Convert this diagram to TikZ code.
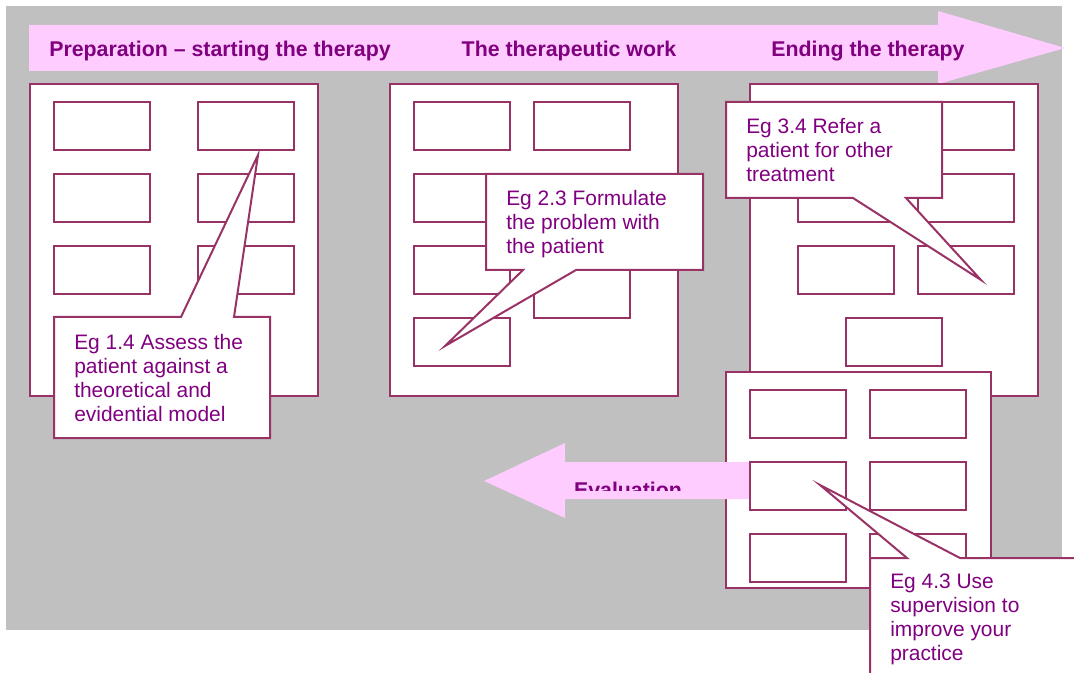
\documentclass[tikz,border=0pt]{standalone}
\usepackage{fontspec}
\setmainfont{Liberation Sans}
\definecolor{rim}{HTML}{993366}
\definecolor{plum}{HTML}{800080}
\definecolor{backgrey}{HTML}{C0C0C0}
\definecolor{band}{HTML}{FFCCFF}

\begin{document}
\begin{tikzpicture}[x=0.75pt,y=-0.75pt,
	panel/.style={draw=rim,line width=1.5pt,fill=white},
	slot/.style={draw=rim,line width=1.5pt,fill=white},
	bubble/.style={draw=rim,line width=1.5pt,fill=white},
	headtxt/.style={text=plum,font=\fontsize{16}{19}\selectfont\bfseries,anchor=base,inner sep=0pt},
	bubtxt/.style={text=plum,font=\fontsize{15.7}{18}\selectfont,align=left,anchor=north west,inner sep=0pt}]
			%%%%% START %%%%%
			\clip (0,0) rectangle (1074,673);
			\fill[backgrey] (6,6) rectangle (1062,630);
			
			% phases arrow
			\fill[band] (29,25) -- (938,25) -- (938,11) -- (1065,48) -- (938,84) -- (938,71) -- (29,71) -- cycle;
			
			% preparation
			\draw[panel] (30,84) rectangle (318,396);
			\draw[slot] (54,102) rectangle (150,150);
			\draw[slot] (198,102) rectangle (294,150);
			\draw[slot] (54,174) rectangle (150,222);
			\draw[slot] (198,174) rectangle (294,222);
			\draw[slot] (54,246) rectangle (150,294);
			\draw[slot] (198,246) rectangle (294,294);
			\draw[bubble] (54,317) -- (181,317) -- (258,155) -- (234,317) -- (270,317) -- (270,438) -- (54,438) -- cycle;
			\node[bubtxt] (eg14) at (74,334) {Eg 1.4 Assess the\\patient against a\\theoretical and\\evidential model};
			
			% therapeutic work
			\draw[panel] (390,84) rectangle (678,396);
			\draw[slot] (414,102) rectangle (510,150);
			\draw[slot] (534,102) rectangle (630,150);
			\draw[slot] (414,174) rectangle (510,222);
			\draw[slot] (414,246) rectangle (510,294);
			\draw[slot] (534,270) rectangle (630,318);
			\draw[slot] (414,318) rectangle (510,366);
			\draw[bubble] (486,174) -- (703,174) -- (703,270) -- (576,270) -- (445,346) -- (523,270) -- (486,270) -- cycle;
			\node[bubtxt] (eg23) at (506,190) {Eg 2.3 Formulate\\the problem with\\the patient};
			
			% ending
			\draw[panel] (750,84) rectangle (1038,396);
			\draw[slot] (918,102) rectangle (1014,150);
			\draw[slot] (798,174) rectangle (894,222);
			\draw[slot] (918,174) rectangle (1014,222);
			\draw[slot] (798,246) rectangle (894,294);
			\draw[slot] (918,246) rectangle (1014,294);
			\draw[slot] (846,318) rectangle (942,366);
			\draw[bubble] (726,102) -- (942,102) -- (942,198) -- (906,198) -- (981,280) -- (853,198) -- (726,198) -- cycle;
			\node[bubtxt] (eg34) at (746,118) {Eg 3.4 Refer a\\patient for other\\treatment};
			
			% evaluation
			\draw[panel] (726,372) rectangle (991,588);
			\fill[band] (750,462) -- (565,462) -- (565,443) -- (484,481) -- (565,518) -- (565,499) -- (750,499) -- cycle;
			\draw[slot] (750,390) rectangle (846,438);
			\draw[slot] (870,390) rectangle (966,438);
			\draw[slot] (750,462) rectangle (846,510);
			\draw[slot] (870,462) rectangle (966,510);
			\draw[slot] (750,534) rectangle (846,582);
			\draw[slot] (870,534) rectangle (966,582);
			\draw[bubble] (870,558) -- (907,558) -- (820,485) -- (960,558) -- (1100,558) -- (1100,700) -- (870,700) -- cycle;
			\node[bubtxt] (eg43) at (890,574) {Eg 4.3 Use\\supervision to\\improve your\\practice};
			
			% headings
			\node[headtxt] (prep) at (220,57) {Preparation – starting the therapy};
			\node[headtxt] (work) at (569,57) {The therapeutic work};
			\node[headtxt] (ending) at (868,57) {Ending the therapy};
			\begin{scope}
				\clip (560,470) rectangle (700,490);
				\node[headtxt] (eval) at (628,497) {Evaluation};
			\end{scope}
			%%%%% END %%%%%
\end{tikzpicture}
\end{document}
